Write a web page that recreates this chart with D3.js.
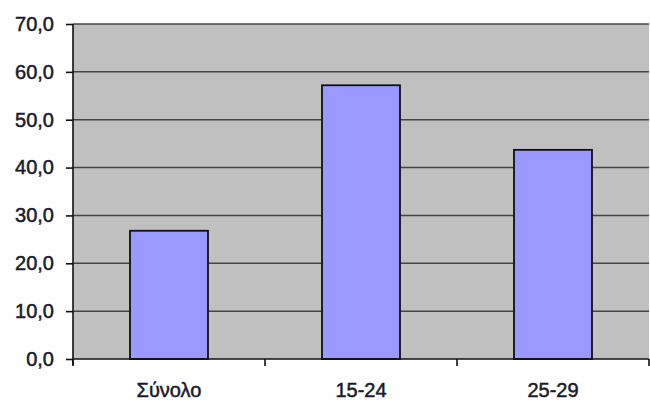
<!DOCTYPE html>
<html>
<head>
<meta charset="utf-8">
<script src="https://cdn.jsdelivr.net/npm/d3@7"></script>
<style>
html,body{margin:0;padding:0;background:#fff;}
svg{display:block;}
</style>
</head>
<body>
<svg id="chart" width="650" height="403"></svg>
<script>
const categories = ["Σύνολο", "15-24", "25-29"];
const values = [26.8, 57.2, 43.7];
const yTicks = [0, 10, 20, 30, 40, 50, 60, 70];

const svg = d3.select("#chart");
const mLeft = 73, mRight = 649, mTop = 24, mBottom = 359;

const xb = d3.scaleBand().domain(categories).range([mLeft, mRight]);
const y = d3.scaleLinear().domain([0, 70]).range([mBottom, mTop]);

svg.append("rect").attr("x", mLeft).attr("y", mTop).attr("width", mRight - mLeft).attr("height", mBottom - mTop).attr("fill", "#c0c0c0");

svg.append("g").selectAll("line").data(yTicks.filter(d => d > 0)).join("line")
  .attr("x1", mLeft).attr("x2", mRight)
  .attr("y1", d => y(d)).attr("y2", d => y(d))
  .attr("stroke", "#444").attr("stroke-width", 1.5);

svg.append("g").selectAll("rect").data(values).join("rect")
  .attr("x", (d, i) => xb(categories[i]) + xb.bandwidth() / 2 - 39)
  .attr("width", 78)
  .attr("y", d => y(d))
  .attr("height", d => y(0) - y(d))
  .attr("fill", "#9999ff").attr("stroke", "#111").attr("stroke-width", 1.8);

const textStyle = sel => sel
  .attr("font-family", "Liberation Sans, Arial, sans-serif")
  .attr("font-size", 20)
  .attr("fill", "#1a1a28")
  .attr("stroke", "#1a1a28")
  .attr("stroke-width", 0.5);

const yAxis = d3.axisLeft(y).tickValues(yTicks).tickSize(7).tickPadding(12)
  .tickFormat(d => d3.format(".1f")(d).replace(".", ","));
const gy = svg.append("g").attr("transform", `translate(${mLeft},0)`).call(yAxis);
gy.select(".domain").attr("d", `M0,${mTop}V${mBottom + 6}`).attr("stroke", "#111").attr("stroke-width", 1.6);
gy.selectAll(".tick line").attr("stroke", "#111").attr("stroke-width", 1.6);
gy.selectAll("text").call(textStyle);

const xAxis = d3.axisBottom(xb).tickSize(0).tickPadding(24);
const gx = svg.append("g").attr("transform", `translate(0,${mBottom})`).call(xAxis);
gx.select(".domain").attr("d", `M${mLeft},0H${mRight}`).attr("stroke", "#111").attr("stroke-width", 1.6);
gx.selectAll("text").call(textStyle);

const bounds = [mLeft, ...categories.map(c => xb(c) + xb.bandwidth())];
svg.append("g").selectAll("line").data(bounds).join("line")
  .attr("x1", d => d).attr("x2", d => d).attr("y1", mBottom).attr("y2", mBottom + 7)
  .attr("stroke", "#111").attr("stroke-width", 1.6);
</script>
</body>
</html>
